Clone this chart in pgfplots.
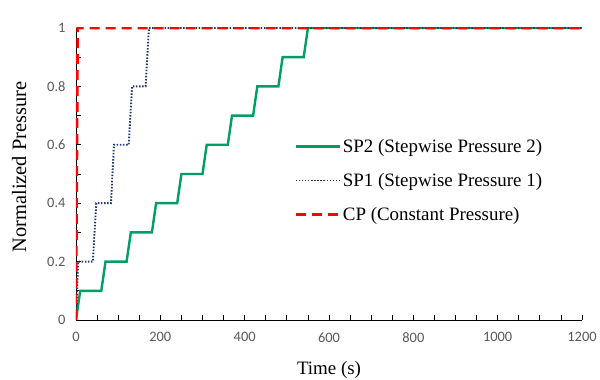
\documentclass[border=0pt]{standalone}
\usepackage{fontspec}
\setmainfont{Liberation Serif}
\newfontfamily\calibri{Carlito}
\usepackage{pgfplots}
\pgfplotsset{compat=1.18}
\definecolor{spgreen}{RGB}{0,158,100}
\definecolor{spblue}{RGB}{31,56,100}
\definecolor{cpred}{RGB}{255,0,0}
\definecolor{tickgray}{RGB}{89,89,89}
\begin{document}
\begin{tikzpicture}
\useasboundingbox (-76bp,-60bp) rectangle (524bp,320bp);
\begin{axis}[
  at={(0,0)}, anchor=origin,
  scale only axis, width=506bp, height=292bp,
  xmin=0, xmax=1200, ymin=0, ymax=1,
  axis lines*=left,
  axis line style={black, line width=0.9bp},
  xtick={0,200,...,1200},
  minor x tick num=3,
  ytick={0,0.2,...,1},
  minor y tick num=1,
  tick align=inside,
  major tick length=5bp, minor tick length=5bp,
  tick style={black, line width=0.8bp},
  /pgf/number format/assume math mode=true,
  /pgf/number format/1000 sep={},
  ticklabel style={font=\calibri\fontsize{14.5}{16}\selectfont, text=tickgray},
  xticklabel style={yshift=-9bp},
  yticklabel style={/pgf/number format/fixed, xshift=-7bp},
  xlabel={Time (s)}, ylabel={Normalized Pressure},
  xlabel style={font=\fontsize{19}{21}\selectfont, at={(axis description cs:0.5,0)}, anchor=base, yshift=-54bp},
  ylabel style={font=\fontsize{20.5}{22}\selectfont, at={(axis description cs:-0.1126,0.524)}, anchor=center},
  legend style={at={(axis description cs:0.431,0.627)}, anchor=north west, draw=none, fill=none,
    font=\fontsize{19}{21}\selectfont, row sep=15.5bp, inner sep=0pt},
  legend cell align=left,
  legend image code/.code={\draw[#1] (0bp,0bp) -- (44bp,0bp);},
]
\addplot[spgreen, line width=2.4bp] coordinates {
(0,0) (10,0.1) (60,0.1) (70,0.2) (120,0.2) (130,0.3) (180,0.3) (190,0.4)
(240,0.4) (250,0.5) (300,0.5) (310,0.6) (360,0.6) (370,0.7) (420,0.7) (430,0.8)
(480,0.8) (490,0.9) (540,0.9) (550,1) (1200,1)};
\addlegendentry{SP2 (Stepwise Pressure 2)}
\addplot[spblue, line width=1.9bp, dash pattern=on 1.5bp off 1.6bp] coordinates {
(0,0) (5,0.2) (40,0.2) (48,0.4) (83,0.4) (90,0.6) (125,0.6) (133,0.8) (165,0.8) (173,1) (1200,1)};
\addlegendentry{SP1 (Stepwise Pressure 1)}
\addplot[cpred, line width=2.6bp, dash pattern=on 10bp off 6bp] coordinates {
(0,0) (4,1) (1200,1)};
\addlegendentry{CP (Constant Pressure)}
\end{axis}
\end{tikzpicture}
\end{document}
